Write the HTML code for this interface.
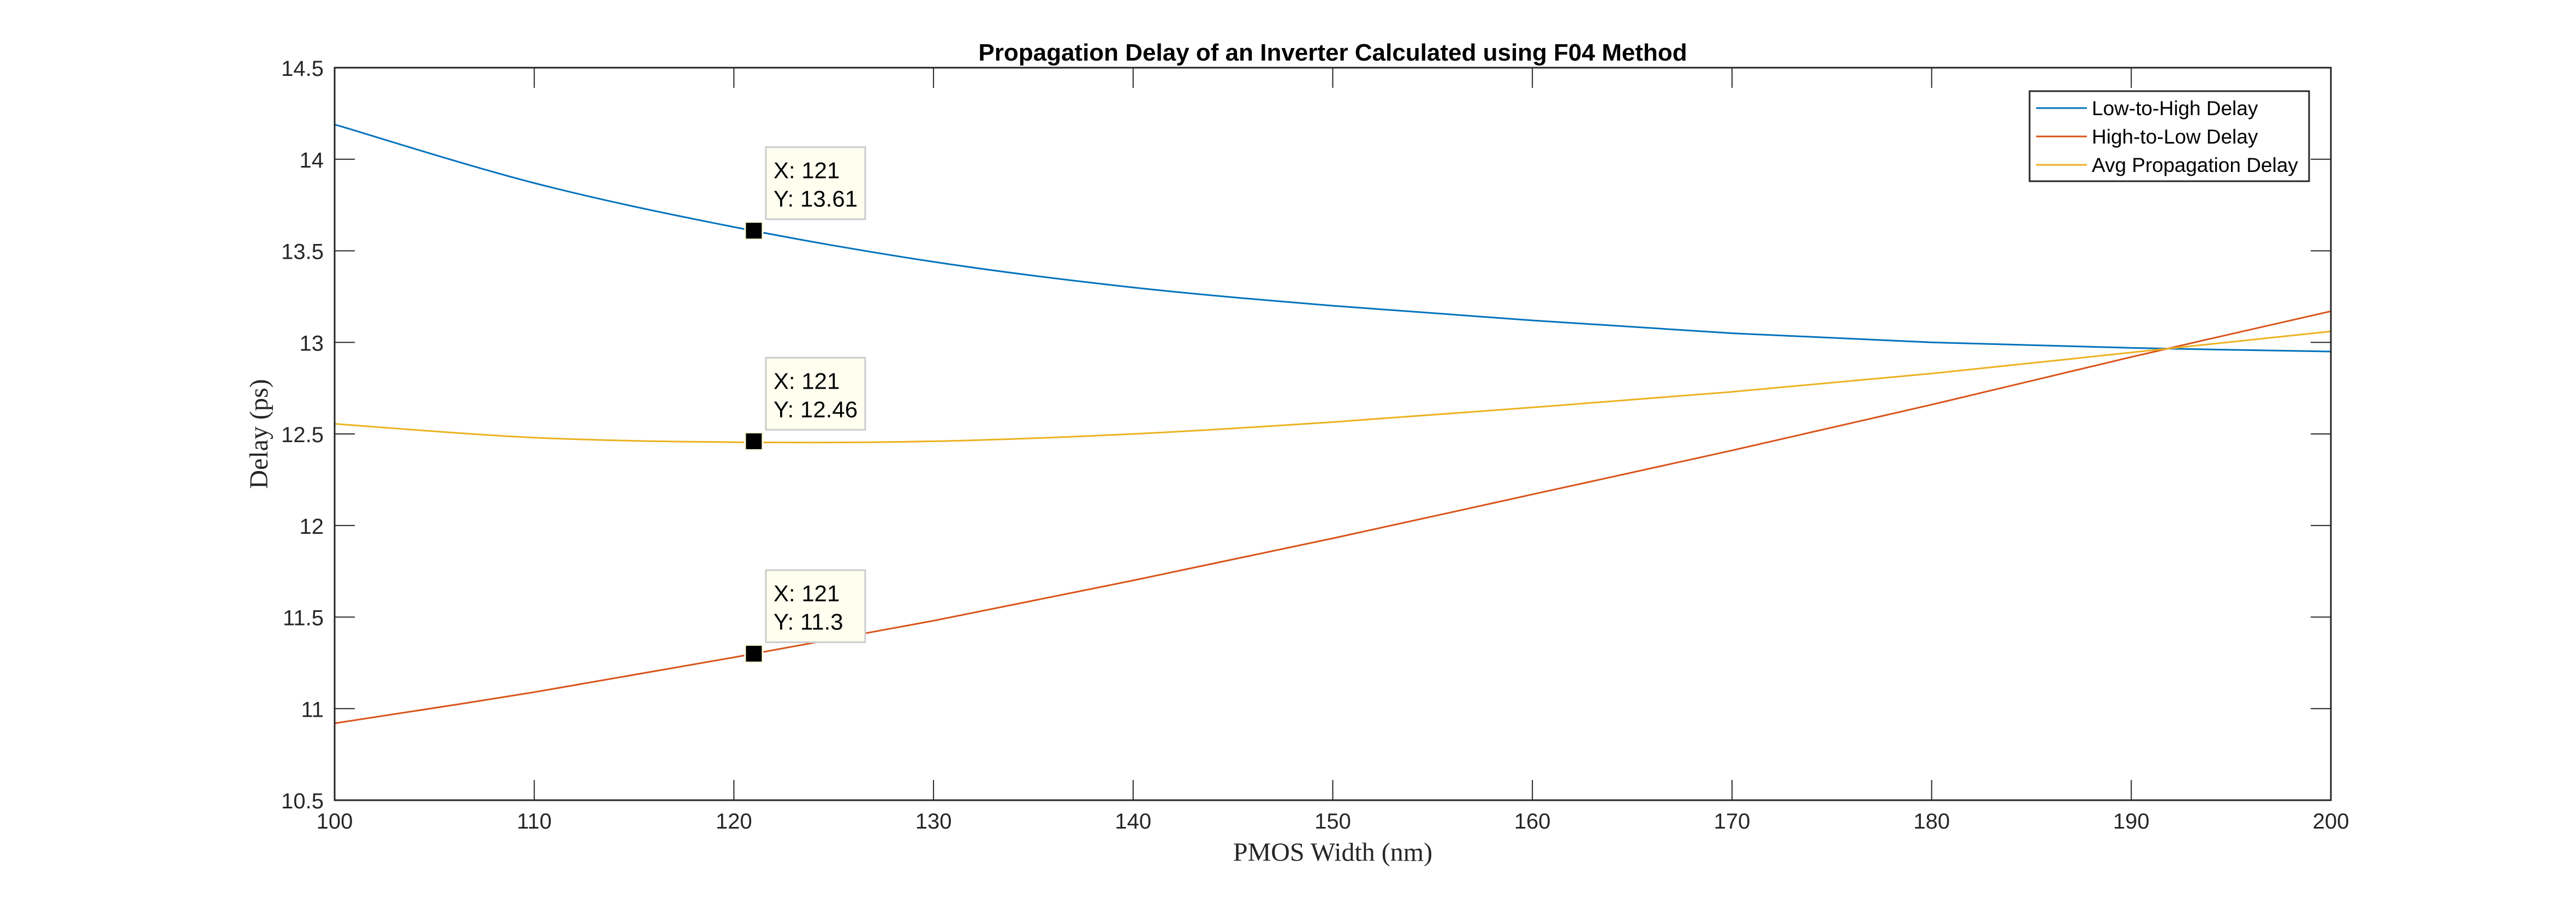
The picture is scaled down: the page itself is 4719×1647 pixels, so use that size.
<!DOCTYPE html>
<html><head><meta charset="utf-8"><style>
html,body{margin:0;padding:0;background:#fff}
svg{display:block}
</style></head><body>
<svg id="chart" xmlns="http://www.w3.org/2000/svg" width="4719" height="1647" viewBox="0 0 4719 1647">
<rect width="4719" height="1647" fill="#fff"/>
<g id="plot"></g>
</svg>
<script>
const widths=[100,110,120,130,140,150,160,170,180,190,200];
const lowToHigh=[14.19,13.87,13.63,13.44,13.30,13.20,13.12,13.05,13.00,12.97,12.95];
const highToLow=[10.92,11.09,11.28,11.48,11.70,11.93,12.17,12.41,12.66,12.92,13.17];
const avgDelay=[12.555,12.48,12.455,12.46,12.50,12.565,12.645,12.73,12.83,12.945,13.06];
const xTicks=[100,110,120,130,140,150,160,170,180,190,200];
const yTicks=[10.5,11,11.5,12,12.5,13,13.5,14,14.5];
const tipX=[121,121,121];
const tipY=[13.61,12.46,11.3];
const tipLabels=["13.61","12.46","11.3"];

const L=613,R=4270,T=124,B=1466;
const x=v=>L+(v-100)/100*(R-L);
const y=v=>B-(v-10.5)/4*(B-T);
const NS="http://www.w3.org/2000/svg";
const g=document.getElementById('plot');
function mk(tag,attrs,parent){const e=document.createElementNS(NS,tag);for(const k in attrs)e.setAttribute(k,attrs[k]);(parent||g).appendChild(e);return e;}

function pathFor(xs,ys){
  const p=xs.map((v,i)=>[x(v),y(ys[i])]);
  let d="M"+p[0][0]+","+p[0][1];
  for(let i=0;i<p.length-1;i++){
    const p0=p[Math.max(0,i-1)],p1=p[i],p2=p[i+1],p3=p[Math.min(p.length-1,i+2)];
    const c1x=p1[0]+(p2[0]-p0[0])/6,c1y=p1[1]+(p2[1]-p0[1])/6;
    const c2x=p2[0]-(p3[0]-p1[0])/6,c2y=p2[1]-(p3[1]-p1[1])/6;
    d+=" C"+c1x+","+c1y+" "+c2x+","+c2y+" "+p2[0]+","+p2[1];
  }
  return d;
}
const series=[[lowToHigh,"#0072BD","line-low-to-high"],[highToLow,"#D95319","line-high-to-low"],[avgDelay,"#EDB120","line-avg-delay"]];
series.forEach(s=>{
  const e=mk('path',{d:pathFor(widths,s[0]),fill:"none",stroke:s[1],"stroke-width":3});
  
  
});

// axes box
const box=mk('rect',{x:L,y:T,width:R-L,height:B-T,fill:"none",stroke:"#262626","stroke-width":3});


const TL=37;
xTicks.forEach(v=>{
  const t1=mk('line',{x1:x(v),x2:x(v),y1:B,y2:B-TL,stroke:"#262626","stroke-width":2});
  
  
  const t2=mk('line',{x1:x(v),x2:x(v),y1:T,y2:T+TL,stroke:"#262626","stroke-width":2});
  
  
  const tx=mk('text',{x:x(v),y:B+52,"text-anchor":"middle","font-family":"Liberation Sans, sans-serif","font-size":40,fill:"#262626"});
  tx.textContent=v;
  
  
});
yTicks.forEach(v=>{
  const t1=mk('line',{x1:L,x2:L+TL,y1:y(v),y2:y(v),stroke:"#262626","stroke-width":2});
  
  
  const t2=mk('line',{x1:R,x2:R-TL,y1:y(v),y2:y(v),stroke:"#262626","stroke-width":2});
  
  
  const tx=mk('text',{x:L-20,y:y(v)+15,"text-anchor":"end","font-family":"Liberation Sans, sans-serif","font-size":40,fill:"#262626"});
  tx.textContent=v;
  
  
});

// data tips
tipX.forEach((v,i)=>{
  const cx=x(v),cy=y(tipY[i]);
  const bx=mk('rect',{x:cx+22,y:cy-153,width:182,height:132,fill:"#FFFFF0",stroke:"#cccccc","stroke-width":3});
  
  
  const t1=mk('text',{x:cx+36,y:cy-96,"font-family":"Liberation Sans, sans-serif","font-size":42,fill:"#000"});
  t1.textContent="X: "+v;
  
  
  const t2=mk('text',{x:cx+36,y:cy-44,"font-family":"Liberation Sans, sans-serif","font-size":42,fill:"#000"});
  t2.textContent="Y: "+tipLabels[i];
  
  
  const m=mk('rect',{x:cx-16,y:cy-16,width:32,height:32,fill:"#000",stroke:"#FFFFE0","stroke-width":3});
  
  
});

// legend
const lg=mk('g',{});


const lb=mk('rect',{x:3718,y:167,width:512,height:165,fill:"#fff",stroke:"#262626","stroke-width":3},lg);


const names=["Low-to-High Delay","High-to-Low Delay","Avg Propagation Delay"];
series.forEach((s,i)=>{
  const yy=198+i*52;
  const ln=mk('line',{x1:3730,x2:3823,y1:yy,y2:yy,stroke:s[1],"stroke-width":3},lg);
  
  
  const t=mk('text',{x:3832,y:yy+13,"font-family":"Liberation Sans, sans-serif","font-size":37,fill:"#000"},lg);
  t.textContent=names[i];
  
  
});

// title & labels
const ti=mk('text',{x:(L+R)/2,y:111,"text-anchor":"middle","font-family":"Liberation Sans, sans-serif","font-size":44,"font-weight":"bold",fill:"#000"});
ti.textContent="Propagation Delay of an Inverter Calculated using F04 Method";


const xl=mk('text',{x:(L+R)/2,y:1577,"text-anchor":"middle","font-family":"Liberation Serif, serif","font-size":48,fill:"#262626"});
xl.textContent="PMOS Width (nm)";


const yl=mk('text',{x:0,y:0,"text-anchor":"middle","font-family":"Liberation Serif, serif","font-size":48,fill:"#262626",transform:"translate(490,"+((T+B)/2)+") rotate(-90)"});
yl.textContent="Delay (ps)";


</script>
</body></html>
